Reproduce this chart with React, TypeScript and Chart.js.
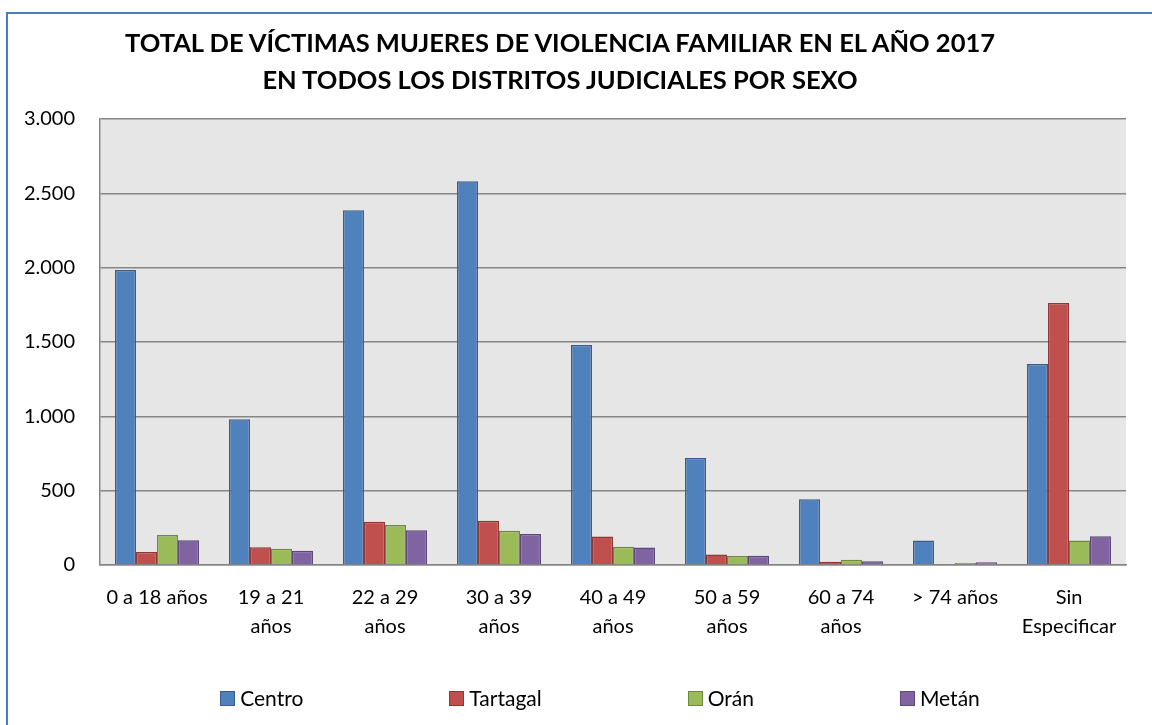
import React, { useEffect, useRef } from 'react';
import { Chart, registerables } from 'chart.js';

Chart.register(...registerables);

// ---- Data ----
const categories: (string | string[])[] = [
  '0 a 18 años',
  ['19 a 21', 'años'],
  ['22 a 29', 'años'],
  ['30 a 39', 'años'],
  ['40 a 49', 'años'],
  ['50 a 59', 'años'],
  ['60 a 74', 'años'],
  '> 74 años',
  ['Sin', 'Especificar'],
];

const seriesNames = ['Centro', 'Tartagal', 'Orán', 'Metán'];

const centro = [1985, 980, 2386, 2581, 1480, 720, 442, 164, 1352];
const tartagal = [87, 119, 291, 298, 191, 70, 22, 7, 1762];
const oran = [202, 110, 269, 231, 123, 61, 36, 13, 164];
const metan = [166, 96, 233, 209, 117, 63, 25, 18, 193];

const yTickValues = [0, 500, 1000, 1500, 2000, 2500, 3000];

const titleLines = [
  'TOTAL DE VÍCTIMAS MUJERES DE VIOLENCIA FAMILIAR EN EL AÑO 2017',
  'EN TODOS LOS DISTRITOS JUDICIALES POR SEXO',
];

// ---- Styles ----
const fills = ['#4F81BD', '#C0504D', '#9BBB59', '#8064A2'];
const borders = ['#385D8A', '#8C3836', '#71893F', '#5C4776'];
const FONT = 'Lato';

const formatThousands = (v: number) =>
  String(v).replace(/\B(?=(\d{3})+(?!\d))/g, '.');

export default function App() {
  const canvasRef = useRef<HTMLCanvasElement>(null);

  useEffect(() => {
    if (!canvasRef.current) return;
    const values = [centro, tartagal, oran, metan];

    const plotBg = {
      id: 'plotBg',
      beforeDraw(chart: any) {
        const { ctx, chartArea: a } = chart;
        ctx.save();
        ctx.fillStyle = '#E6E6E6';
        ctx.fillRect(a.left, a.top, a.right - a.left, a.bottom - a.top);
        ctx.restore();
      },
    };

    const chart = new Chart(canvasRef.current, {
      type: 'bar',
      data: {
        labels: categories as any,
        datasets: seriesNames.map((name, i) => ({
          label: name,
          data: values[i],
          backgroundColor: fills[i],
          borderColor: borders[i],
          borderWidth: 1.5,
          categoryPercentage: 0.737,
          barPercentage: 1,
        })),
      },
      options: {
        responsive: false,
        animation: false,
        layout: { padding: { top: 119, right: 26, bottom: 0, left: 0 } },
        plugins: {
          legend: { display: false },
          title: { display: false },
          tooltip: { enabled: false },
        },
        scales: {
          x: {
            grid: { display: false, drawTicks: false },
            border: { display: true, color: '#868686', width: 1.5 },
            ticks: {
              color: '#000',
              font: { family: FONT, size: 20, lineHeight: 1.45 },
              padding: 18,
              maxRotation: 0,
              autoSkip: false,
            },
            afterFit(scale: any) {
              scale.height = 160;
            },
          },
          y: {
            min: 0,
            max: 3000,
            afterBuildTicks(scale: any) {
              scale.ticks = yTickValues.map((v) => ({ value: v }));
            },
            ticks: {
              color: '#000',
              font: { family: FONT, size: 20 },
              padding: 25,
              callback: (v: any) => formatThousands(Number(v)),
            },
            grid: { color: '#868686', lineWidth: 1.5, drawTicks: false },
            border: { display: true, color: '#868686', width: 1.5 },
            afterFit(scale: any) {
              scale.width = 100;
            },
          },
        },
      },
      plugins: [plotBg],
    });

    return () => chart.destroy();
  }, []);

  return (
    <div
      style={{
        position: 'fixed',
        left: 0,
        top: 0,
        width: 1152,
        height: 725,
        overflow: 'hidden',
        background: '#fff',
      }}
    >
      <div
        style={{
          position: 'absolute',
          left: 6,
          top: 12,
          width: 1220,
          height: 820,
          border: '2px solid #4A7EBB',
          boxSizing: 'border-box',
        }}
      />
      <canvas
        ref={canvasRef}
        width={1152}
        height={725}
        style={{ position: 'absolute', left: 0, top: 0 }}
      />
      <div
        style={{
          position: 'absolute',
          left: 0,
          top: 24,
          width: 1120,
          textAlign: 'center',
          fontFamily: FONT,
          fontWeight: 700,
          fontSize: 25.5,
          lineHeight: '37px',
          color: '#000',
        }}
      >
        {titleLines.map((t) => (
          <div key={t}>{t}</div>
        ))}
      </div>
      <div
        style={{
          position: 'absolute',
          left: 0,
          top: 686,
          width: 1200,
          height: 24,
          display: 'flex',
          justifyContent: 'center',
          alignItems: 'center',
          gap: 146,
          fontFamily: FONT,
          fontSize: 21,
          lineHeight: '24px',
          color: '#000',
        }}
      >
        {seriesNames.map((name, i) => (
          <div key={name} style={{ display: 'flex', alignItems: 'center' }}>
            <span
              style={{
                display: 'inline-block',
                width: 15,
                height: 15,
                boxSizing: 'border-box',
                background: fills[i],
                border: `1.5px solid ${borders[i]}`,
                marginRight: 5,
              }}
            />
            <span>{name}</span>
          </div>
        ))}
      </div>
    </div>
  );
}
